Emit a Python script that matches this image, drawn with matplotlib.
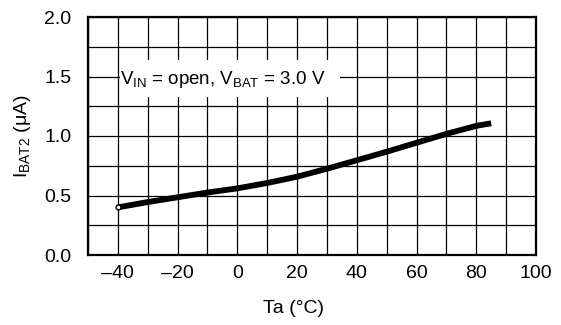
import matplotlib
matplotlib.use("Agg")
import matplotlib.pyplot as plt
from matplotlib.patches import Rectangle
import numpy as np

# Data
temp_c = [-40, -30, -20, -10, 0, 10, 20, 30, 40, 50, 60, 70, 80, 85]
ibat2_ua = [0.40, 0.445, 0.485, 0.525, 0.56, 0.605, 0.658, 0.725, 0.796, 0.868, 0.943, 1.018, 1.085, 1.107]
xticks = [-40, -20, 0, 20, 40, 60, 80, 100]
xtick_labels = ["–40", "–20", "0", "20", "40", "60", "80", "100"]
yticks = [0.0, 0.5, 1.0, 1.5, 2.0]
ytick_labels = ["0.0", "0.5", "1.0", "1.5", "2.0"]

plt.rcParams['font.family'] = ['Liberation Sans', 'DejaVu Sans']
plt.rcParams['mathtext.fontset'] = 'custom'
plt.rcParams['mathtext.rm'] = 'Liberation Sans'
plt.rcParams['mathtext.it'] = 'Liberation Sans'
plt.rcParams['mathtext.default'] = 'rm'

fig = plt.figure(figsize=(5.61, 3.25), dpi=100)
ax = fig.add_axes([88/561, 1-255/325, 448/561, 238/325])

ax.set_xlim(-50, 100)
ax.set_ylim(0, 2.0)
ax.set_xticks(np.arange(-50, 101, 10), minor=True)
ax.set_yticks(np.arange(0, 2.01, 0.25), minor=True)
ax.set_xticks(xticks)
ax.set_xticklabels(xtick_labels)
ax.set_yticks(yticks)
ax.set_yticklabels(ytick_labels)
ax.grid(True, which='both', color='black', linewidth=0.9)
ax.set_axisbelow(True)
ax.tick_params(which='both', length=0, labelsize=14, colors='black')
ax.tick_params(axis='x', pad=7)
ax.tick_params(axis='y', pad=12)
for s in ax.spines.values():
    s.set_linewidth(1.6)
    s.set_color('black')

ax.plot(temp_c, ibat2_ua, color='black', linewidth=4.2, solid_capstyle='butt',
        solid_joinstyle='round', zorder=3)
ax.plot(temp_c[0], ibat2_ua[0], marker='o', markersize=3.5, markerfacecolor='white',
        markeredgecolor='black', markeredgewidth=1.0, zorder=4)

# white label box
ax.add_patch(Rectangle((31.5/448, 158/238), 220/448, 37/238, transform=ax.transAxes,
                       facecolor='white', edgecolor='none', zorder=2))
ax.text(32/448, 175/238, r"V$_{IN}$ = open, V$_{BAT}$ = 3.0 V", fontsize=13.5,
        ha='left', va='center', transform=ax.transAxes, zorder=5)

ax.set_xlabel("Ta (°C)", fontsize=14)
ax.xaxis.set_label_coords(0.459, -0.189)
ax.set_ylabel(r"I$_{BAT2}$ (μA)", fontsize=14)
ax.yaxis.set_label_coords(-55/448, 0.5)

fig.savefig("out.png", dpi=100)
